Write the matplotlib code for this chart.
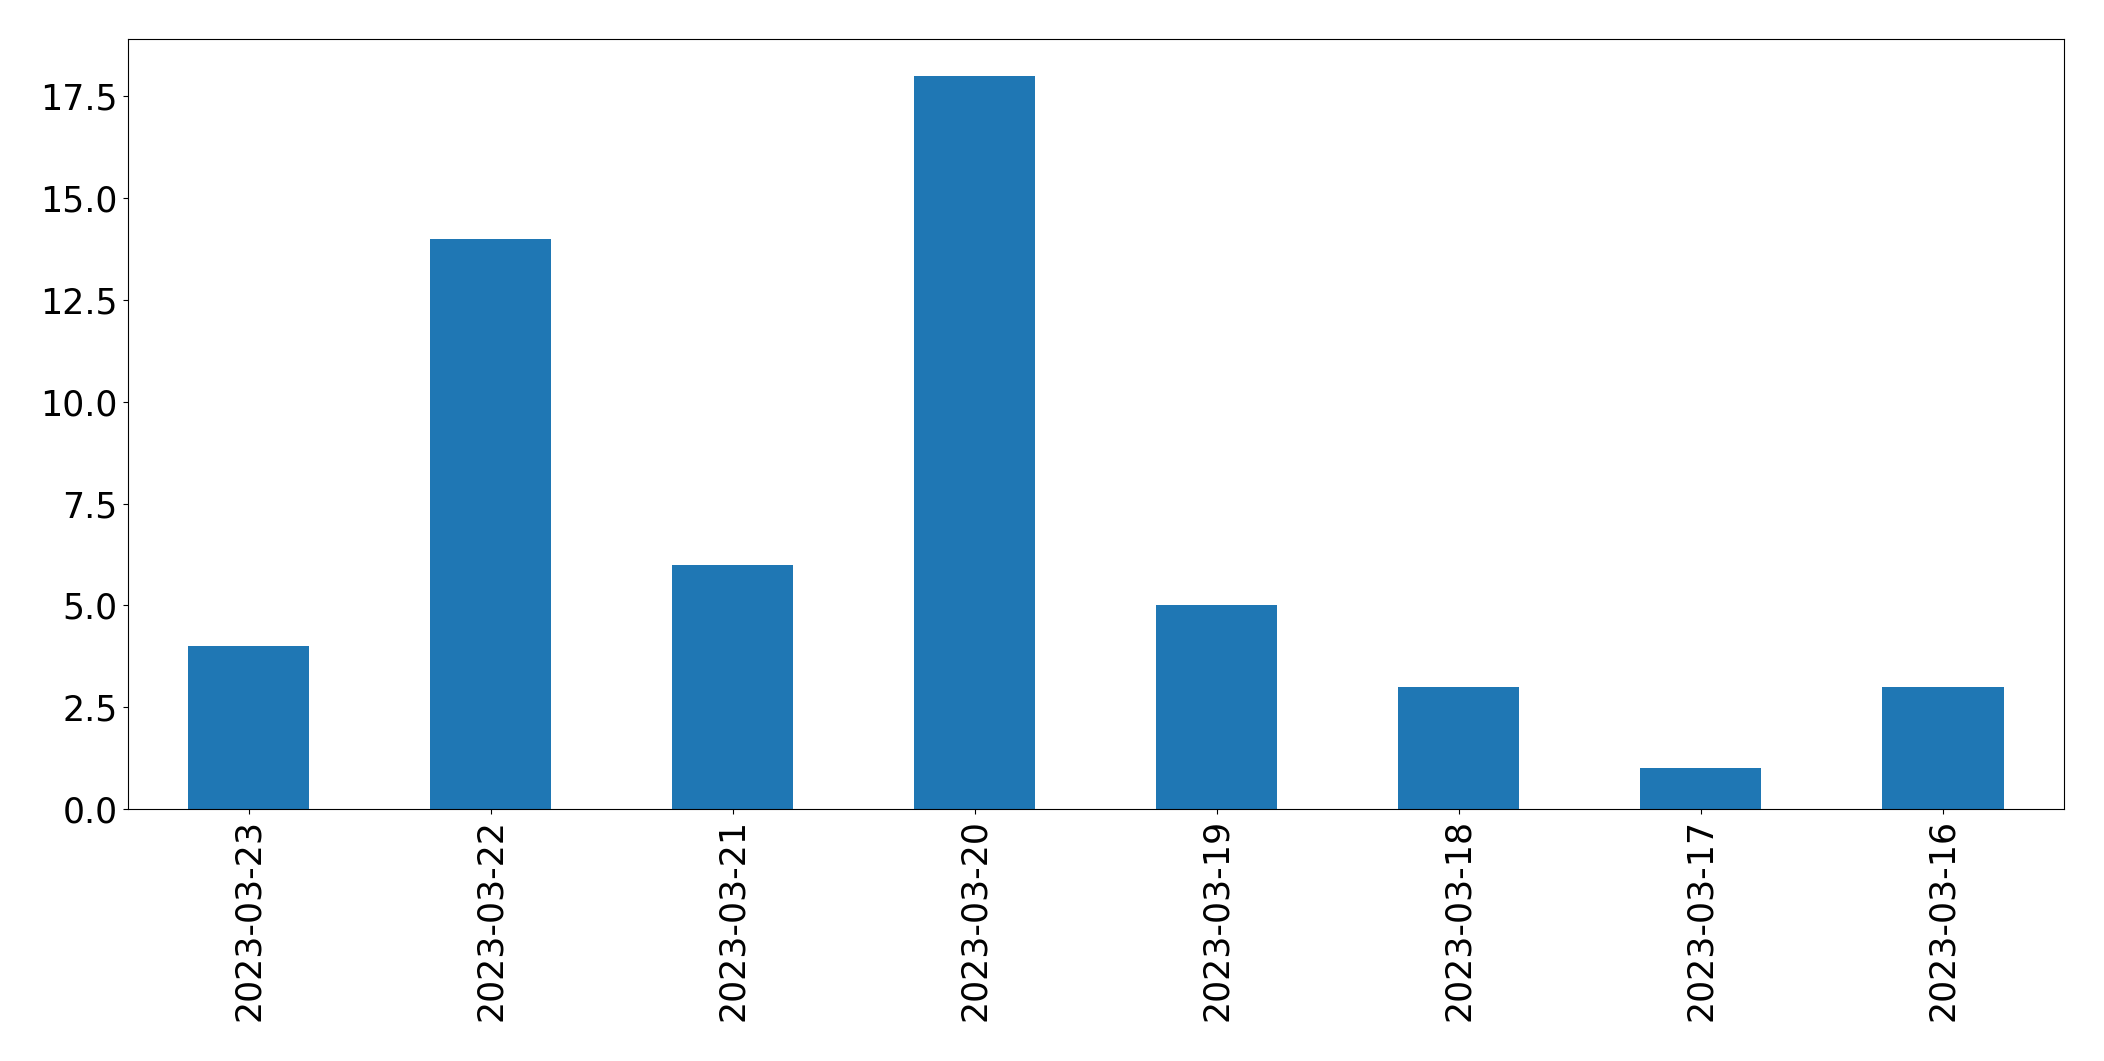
import matplotlib
matplotlib.use("Agg")
import matplotlib.pyplot as plt
import pandas as pd

# Daily counts, newest first (as in the source chart)
dates = ["2023-03-23", "2023-03-22", "2023-03-21", "2023-03-20",
         "2023-03-19", "2023-03-18", "2023-03-17", "2023-03-16"]
counts = [4, 14, 6, 18, 5, 3, 1, 3]

s = pd.Series(counts, index=dates)

fig, ax = plt.subplots(figsize=(21.04, 10.61), dpi=100)
s.plot(kind="bar", ax=ax, color="#1f77b4", fontsize=25)

fig.subplots_adjust(left=0.0606, right=0.981, top=0.963, bottom=0.2375)
fig.savefig("out.png", dpi=100)
